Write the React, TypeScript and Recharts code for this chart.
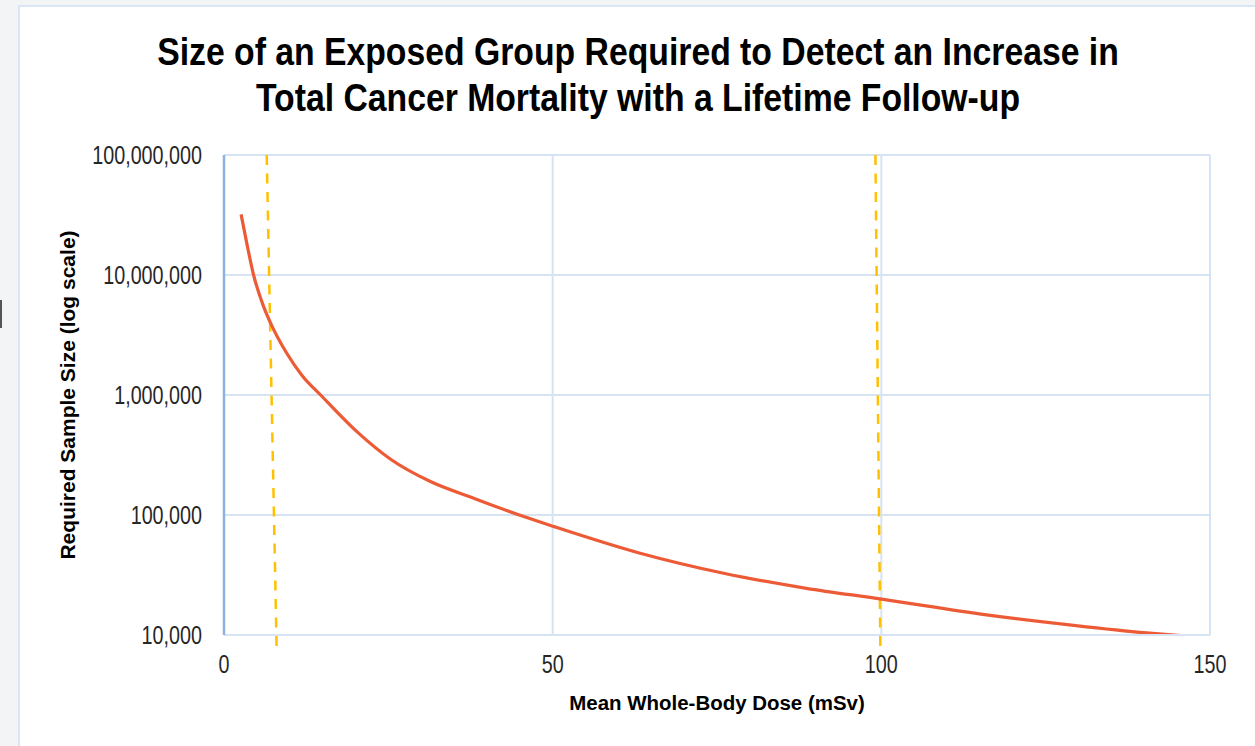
import { CartesianGrid, Line, LineChart, ReferenceLine, XAxis, YAxis } from 'recharts';

// dose (mSv) vs required sample size
const doses = [2.6, 3.5, 4.5, 6.0, 7.3, 9.5, 11.9, 14.7, 20.3, 25.4, 31.4, 38.0, 45.6, 50.2, 63.3, 76.0, 88.6, 99.8, 116, 131.2, 141.3, 147.4];
const sizes = [32000000, 18000000, 10000000, 5500000, 3750000, 2250000, 1450000, 1000000, 490000, 290000, 190000, 138000, 97000, 80000, 48000, 32700, 24500, 20000, 14700, 11700, 10300, 9700];

const xTicks = [0, 50, 100, 150];
const yTicks = [10000, 100000, 1000000, 10000000, 100000000];

// the two dashed markers are slightly slanted in the original
const markerTopX = [6.5, 99.1];
const markerBottomX = [8.0, 99.85];
const markerTopY = 100000000;
const markerBottomY = 8100;

const data = doses.map((d, i) => ({ dose: d, size: sizes[i] }));

const FONT = "'Liberation Sans', Arial, sans-serif";
const GRID = '#d6e3f3';
const SQUASH = 0.79;

const fmt = (v: number) => v.toLocaleString('en-US');

const YTick = (props: any) => {
  const { x, y, payload } = props;
  return (
    <text
      transform={`translate(${x},${y}) scale(${SQUASH},1)`}
      textAnchor="end"
      dy="0.355em"
      fontFamily={FONT}
      fontSize={25}
      fill="#262626"
    >
      {fmt(payload.value)}
    </text>
  );
};

const XTick = (props: any) => {
  const { x, y, payload } = props;
  return (
    <text
      transform={`translate(${x},${y}) scale(${SQUASH},1)`}
      textAnchor="middle"
      dy="0.71em"
      fontFamily={FONT}
      fontSize={25}
      fill="#262626"
    >
      {payload.value}
    </text>
  );
};

const App = () => {
  return (
    <div style={{ position: 'absolute', left: 0, top: 0, width: 1255, height: 746, overflow: 'hidden', background: '#f3f4f6' }}>
      <div style={{ position: 'absolute', left: 0, top: 300, width: 2, height: 28, background: '#555' }} />
      <div
        style={{
          position: 'absolute',
          left: 18,
          top: 5,
          width: 1260,
          height: 760,
          background: '#fff',
          border: '2px solid #dbe6f5',
        }}
      />
      <div
        style={{
          position: 'absolute',
          left: 0,
          top: 29,
          width: 1276,
          textAlign: 'center',
          fontFamily: FONT,
          fontWeight: 'bold',
          fontSize: 39,
          lineHeight: '46px',
          color: '#000',
          transform: 'scaleX(0.865)',
          transformOrigin: '638px 0',
        }}
      >
        Size of an Exposed Group Required to Detect an Increase in
        <br />
        Total Cancer Mortality with a Lifetime Follow-up
      </div>
      <div style={{ position: 'absolute', left: 0, top: 0 }}>
        <LineChart width={1255} height={746} data={data} margin={{ top: 155, right: 45, bottom: 51, left: 0 }}>
          <CartesianGrid stroke={GRID} strokeWidth={2} />
          <XAxis
            dataKey="dose"
            type="number"
            domain={[0, 150]}
            ticks={xTicks}
            height={60}
            tickLine={false}
            tickSize={0}
            tickMargin={20}
            axisLine={{ stroke: GRID, strokeWidth: 2 }}
            tick={<XTick />}
            label={{
              content: () => (
                <text
                  transform="translate(717,710) scale(0.975,1)"
                  textAnchor="middle"
                  fontFamily={FONT}
                  fontWeight="bold"
                  fontSize={21}
                  fill="#000"
                >
                  Mean Whole-Body Dose (mSv)
                </text>
              ),
            }}
          />
          <YAxis
            scale="log"
            type="number"
            domain={[10000, 100000000]}
            ticks={yTicks}
            allowDataOverflow
            width={224}
            tickLine={false}
            tickSize={0}
            tickMargin={22}
            axisLine={{ stroke: '#8db3e2', strokeWidth: 2.5 }}
            tick={<YTick />}
            label={{
              content: () => (
                <text
                  transform="translate(75,395) rotate(-90)"
                  textAnchor="middle"
                  fontFamily={FONT}
                  fontWeight="bold"
                  fontSize={21}
                  fill="#000"
                >
                  Required Sample Size (log scale)
                </text>
              ),
            }}
          />
          {markerTopX.map((x, i) => (
            <ReferenceLine
              key={i}
              segment={[
                { x, y: markerTopY },
                { x: markerBottomX[i], y: markerBottomY },
              ]}
              ifOverflow="visible"
              stroke="#ffc000"
              strokeWidth={2.5}
              strokeDasharray="10 8.5"
            />
          ))}
          <Line
            dataKey="size"
            type="monotone"
            stroke="#ec5b36"
            strokeWidth={3.2}
            dot={false}
            isAnimationActive={false}
          />
        </LineChart>
      </div>
    </div>
  );
};

export default App;
